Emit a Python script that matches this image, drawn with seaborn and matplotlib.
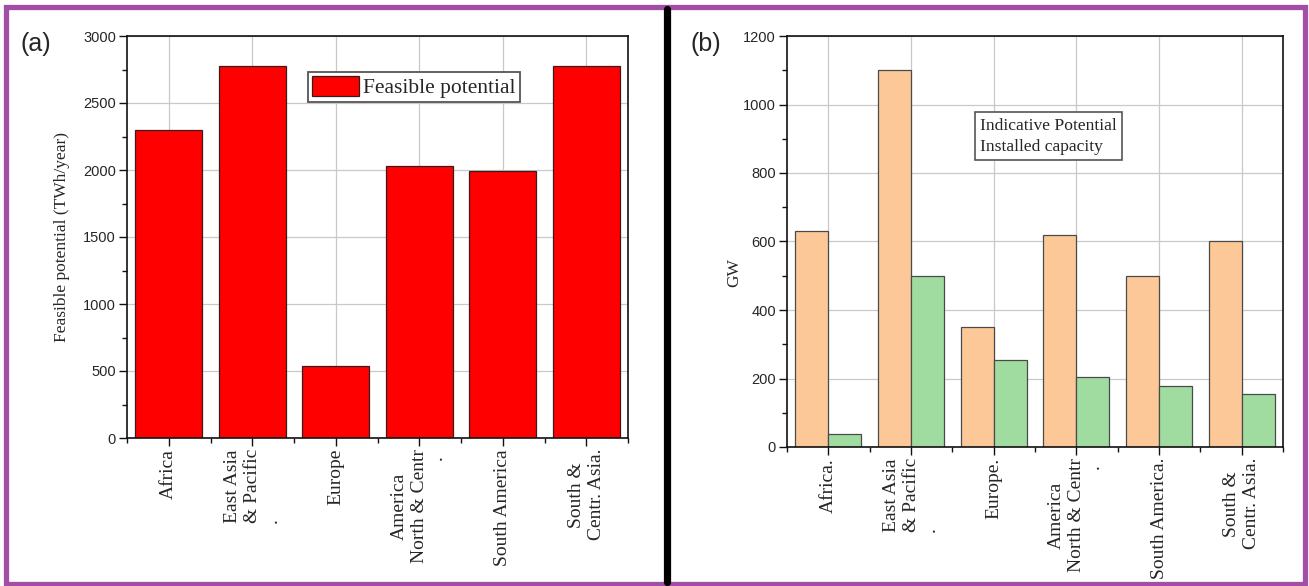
import matplotlib
matplotlib.use("Agg")
import matplotlib.pyplot as plt
import seaborn as sns
import pandas as pd
from matplotlib.patches import Rectangle
from matplotlib.lines import Line2D
from matplotlib.ticker import MultipleLocator, FixedLocator

# Regions and values
regions = ["Africa", "East Asia & Pacific", "Europe",
           "North & Centr. America", "South America", "South & Centr. Asia"]
labels_a = ["Africa", "East Asia\n& Pacific\n.", "Europe",
            "America\nNorth & Centr\n" + r"$\quad\quad\quad\quad\quad$.", "South America",
            "South &\nCentr. Asia."]
labels_b = ["Africa.", "East Asia\n& Pacific\n.", "Europe.",
            "America\nNorth & Centr\n" + r"$\quad\quad\quad\quad\quad$.", "South America.",
            "South &\nCentr. Asia."]
feasible = [2300, 2775, 535, 2030, 1990, 2775]          # TWh/year
indicative = [630, 1100, 350, 620, 500, 600]            # GW
installed = [38, 500, 255, 205, 178, 155]               # GW
series_a = ["Feasible potential"]
series_b = ["Indicative Potential", "Installed capacity"]

sns.set_style("white")
plt.rcParams["font.family"] = ["Liberation Sans", "DejaVu Sans"]
SERIF = ["Liberation Serif", "DejaVu Serif"]

W, H = 1309, 586
fig = plt.figure(figsize=(W / 100, H / 100), dpi=100)


def fig_rect(x0, y0, x1, y1):
    return [x0 / W, 1 - y1 / H, (x1 - x0) / W, (y1 - y0) / H]


ax1 = fig.add_axes(fig_rect(127, 36, 628, 438))
ax2 = fig.add_axes(fig_rect(787, 36, 1283, 447))

df_a = pd.DataFrame({"region": regions, "value": feasible,
                     "series": series_a * len(regions)})
sns.barplot(data=df_a, x="region", y="value", hue="series",
            palette=["#ff0000"], saturation=1, width=0.8,
            edgecolor="#3a1a1a", linewidth=0.9, ax=ax1)

df_b = pd.DataFrame({"region": regions * 2,
                     "GW": indicative + installed,
                     "series": [series_b[0]] * 6 + [series_b[1]] * 6})
sns.barplot(data=df_b, x="region", y="GW", hue="series",
            palette=["#fdc898", "#a0dca0"], saturation=1, width=0.8,
            edgecolor="#4a4a4a", linewidth=0.9, ax=ax2)


def style_axes(ax, ymax, ystep, labels):
    ax.set_xlim(-0.5, 5.5)
    ax.set_ylim(0, ymax)
    ax.yaxis.set_major_locator(MultipleLocator(ystep))
    ax.yaxis.set_minor_locator(MultipleLocator(ystep / 2))
    ax.xaxis.set_minor_locator(FixedLocator([i + 0.5 for i in range(-1, 6)]))
    ax.set_axisbelow(True)
    ax.grid(True, which="major", color="#c9c9c9", linewidth=0.9)
    for s in ax.spines.values():
        s.set_visible(True)
        s.set_color("#111111")
        s.set_linewidth(1.2)
    ax.tick_params(which="major", direction="out", length=6, width=1.0,
                   color="#111111", left=True, bottom=True, top=False, right=False,
                   labelsize=10.5, pad=2)
    ax.tick_params(which="minor", direction="out", length=3.5, width=1.0,
                   color="#111111", left=True, bottom=True, top=False, right=False)
    ax.set_xticks(range(len(labels)))
    ax.set_xticklabels(labels, rotation=90, fontfamily=SERIF, fontsize=14)
    # the three-line East Asia label keeps its lines flush at the start
    ax.get_xticklabels()[1].set_multialignment("left")
    ax.set_xlabel("")


style_axes(ax1, 3000, 500, labels_a)
style_axes(ax2, 1200, 200, labels_b)

ax1.set_ylabel("Feasible potential (TWh/year)", fontfamily=SERIF, fontsize=12.5)
ax1.yaxis.set_label_coords(-0.113, 0.5)
ax2.set_ylabel("GW", fontfamily=SERIF, fontsize=12.5)
ax2.yaxis.set_label_coords(-0.091, 0.425)

leg1 = ax1.legend(loc="upper left", bbox_to_anchor=(0.361, 0.91), borderaxespad=0,
                  prop={"family": SERIF, "size": 15.5}, fancybox=False,
                  edgecolor="#555555", framealpha=1, handlelength=2.2,
                  handleheight=1.05, handletextpad=0.2, borderpad=0.18)
leg1.get_frame().set_linewidth(1.3)

leg2 = ax2.legend(loc="upper left", bbox_to_anchor=(0.379, 0.814), borderaxespad=0,
                  prop={"family": SERIF, "size": 12.6}, fancybox=False,
                  edgecolor="#555555", framealpha=1, handlelength=0,
                  handletextpad=0, borderpad=0.3, labelspacing=0.25)
leg2.get_frame().set_linewidth(1.2)
for h in leg2.legend_handles:
    h.set_visible(False)

fig.text(20 / W, 1 - 44 / H, "(a)", fontsize=18, va="center", ha="left")
fig.text(690 / W, 1 - 44 / H, "(b)", fontsize=18, va="center", ha="left")

# Panel frame and divider
fig.add_artist(Rectangle((6 / W, 1 - 584 / H), 1299 / W, 577 / H,
                         transform=fig.transFigure, fill=False,
                         edgecolor="#a24ea6", linewidth=3.8))
fig.add_artist(Line2D([667 / W, 667 / W], [1 - 582 / H, 1 - 9 / H],
                      transform=fig.transFigure, color="black", linewidth=5.2))

fig.savefig("out.png", dpi=100)
